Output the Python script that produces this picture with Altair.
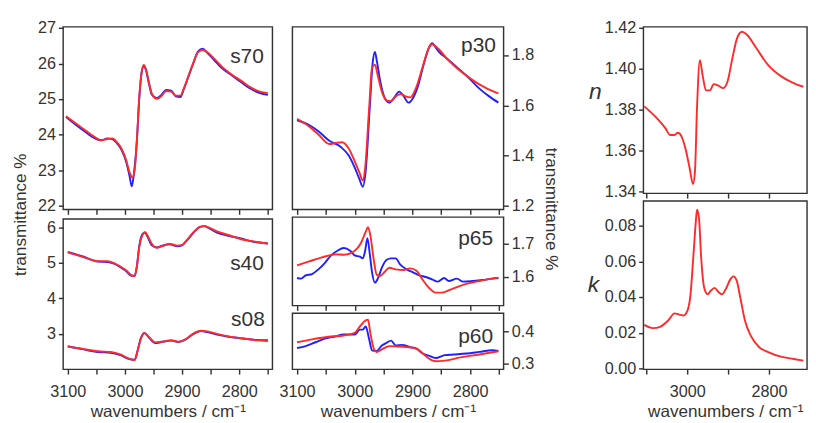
import altair as alt
import pandas as pd

FONT = "Liberation Sans"
INK = "#333333"
BLUE = "#2020ff"
RED = "#ff2a2a"

# ---------------- data (wavenumber, value) ----------------
s70_red_wn = [3103, 3075, 3047, 3042, 3031, 3022, 3014, 3006, 2998, 2992, 2987, 2983, 2979, 2975, 2971, 2967, 2963, 2958, 2953, 2944, 2936, 2928, 2919, 2911, 2903, 2897, 2889, 2881, 2872, 2864, 2856, 2844, 2831, 2814, 2797, 2781, 2764, 2750]
s70_red = [24.52, 24.19, 23.88, 23.84, 23.88, 23.90, 23.79, 23.61, 23.30, 22.95, 22.80, 23.00, 23.88, 25.03, 25.74, 25.96, 25.83, 25.47, 25.16, 25.01, 25.09, 25.23, 25.21, 25.10, 25.10, 25.30, 25.65, 26.00, 26.32, 26.38, 26.32, 26.14, 25.92, 25.70, 25.52, 25.34, 25.21, 25.17]
s70_blue_wn = [3103, 3075, 3047, 3040, 3031, 3022, 3014, 3006, 2998, 2992, 2988, 2984, 2979, 2975, 2971, 2967, 2963, 2958, 2953, 2944, 2936, 2928, 2919, 2911, 2903, 2897, 2889, 2881, 2872, 2864, 2856, 2844, 2831, 2814, 2797, 2781, 2764, 2750]
s70_blue = [24.50, 24.15, 23.86, 23.85, 23.90, 23.88, 23.76, 23.58, 23.25, 22.85, 22.55, 22.95, 23.85, 25.00, 25.72, 25.93, 25.80, 25.44, 25.13, 25.03, 25.12, 25.26, 25.24, 25.08, 25.06, 25.28, 25.63, 25.98, 26.34, 26.42, 26.30, 26.10, 25.88, 25.68, 25.48, 25.30, 25.17, 25.12]

s40_wn = [3100, 3075, 3047, 3031, 3019, 3008, 2997, 2989, 2983, 2979, 2975, 2969, 2965, 2961, 2953, 2944, 2936, 2922, 2908, 2900, 2892, 2881, 2869, 2861, 2853, 2839, 2819, 2797, 2775, 2750]
s40_red = [5.30, 5.18, 5.05, 5.05, 5.00, 4.90, 4.78, 4.66, 4.63, 4.91, 5.45, 5.80, 5.87, 5.79, 5.54, 5.43, 5.47, 5.54, 5.49, 5.51, 5.64, 5.85, 6.01, 6.04, 6.00, 5.89, 5.79, 5.67, 5.61, 5.55]
s40_blue = [5.31, 5.19, 5.04, 5.03, 4.98, 4.88, 4.76, 4.64, 4.64, 4.92, 5.47, 5.82, 5.86, 5.76, 5.50, 5.44, 5.48, 5.53, 5.47, 5.50, 5.63, 5.84, 6.02, 6.04, 5.98, 5.86, 5.77, 5.69, 5.60, 5.55]

s08_wn = [3100, 3075, 3047, 3025, 3008, 2994, 2983, 2978, 2972, 2966, 2958, 2947, 2936, 2919, 2906, 2894, 2881, 2867, 2856, 2839, 2819, 2794, 2769, 2750]
s08_red = [2.64, 2.58, 2.51, 2.49, 2.42, 2.31, 2.26, 2.51, 2.87, 3.02, 2.91, 2.76, 2.78, 2.82, 2.78, 2.85, 3.00, 3.09, 3.07, 3.00, 2.93, 2.87, 2.82, 2.80]
s08_blue = [2.65, 2.57, 2.49, 2.47, 2.40, 2.30, 2.27, 2.52, 2.89, 3.03, 2.90, 2.74, 2.77, 2.81, 2.77, 2.84, 2.99, 3.08, 3.05, 2.98, 2.92, 2.87, 2.83, 2.82]

p30_red_wn = [3100, 3079, 3063, 3044, 3033, 3022, 3011, 3000, 2992, 2986, 2982, 2975, 2970, 2965, 2960, 2953, 2945, 2937, 2929, 2920, 2912, 2904, 2893, 2882, 2871, 2866, 2858, 2838, 2817, 2795, 2773, 2751]
p30_red = [1.547, 1.516, 1.484, 1.446, 1.450, 1.453, 1.430, 1.377, 1.333, 1.301, 1.350, 1.590, 1.750, 1.762, 1.718, 1.655, 1.620, 1.617, 1.636, 1.645, 1.636, 1.632, 1.674, 1.756, 1.832, 1.844, 1.832, 1.781, 1.737, 1.700, 1.670, 1.648]
p30_blue_wn = [3100, 3079, 3063, 3044, 3024, 3011, 3000, 2992, 2986, 2981, 2974, 2969, 2965, 2962, 2956, 2948, 2940, 2932, 2923, 2915, 2907, 2899, 2890, 2880, 2871, 2866, 2858, 2852, 2844, 2828, 2806, 2784, 2767, 2751]
p30_blue = [1.541, 1.522, 1.497, 1.459, 1.434, 1.402, 1.352, 1.307, 1.276, 1.339, 1.590, 1.768, 1.813, 1.781, 1.699, 1.630, 1.611, 1.630, 1.655, 1.636, 1.611, 1.630, 1.680, 1.768, 1.832, 1.848, 1.825, 1.809, 1.794, 1.762, 1.718, 1.667, 1.636, 1.611]

p65_red_wn = [3100, 3079, 3057, 3033, 3019, 3000, 2989, 2981, 2977, 2973, 2967, 2962, 2956, 2948, 2940, 2929, 2915, 2904, 2893, 2882, 2871, 2860, 2849, 2833, 2811, 2784, 2751]
p65_red = [1.635, 1.647, 1.659, 1.668, 1.667, 1.679, 1.703, 1.736, 1.750, 1.726, 1.651, 1.607, 1.603, 1.616, 1.628, 1.623, 1.621, 1.626, 1.619, 1.591, 1.567, 1.553, 1.553, 1.563, 1.577, 1.588, 1.598]
p65_blue_wn = [3100, 3093, 3085, 3074, 3063, 3052, 3041, 3030, 3019, 3008, 3000, 2991, 2986, 2982, 2978, 2974, 2970, 2965, 2960, 2953, 2945, 2937, 2929, 2921, 2910, 2899, 2888, 2877, 2866, 2856, 2845, 2837, 2823, 2812, 2795, 2778, 2762, 2751]
p65_blue = [1.597, 1.595, 1.605, 1.609, 1.623, 1.642, 1.665, 1.679, 1.687, 1.679, 1.665, 1.661, 1.656, 1.679, 1.717, 1.670, 1.614, 1.583, 1.595, 1.628, 1.651, 1.656, 1.656, 1.637, 1.623, 1.614, 1.605, 1.600, 1.593, 1.586, 1.597, 1.588, 1.595, 1.586, 1.588, 1.591, 1.595, 1.597]

p60_red_wn = [3100, 3074, 3046, 3019, 3000, 2991, 2981, 2977, 2973, 2967, 2962, 2953, 2940, 2926, 2910, 2893, 2882, 2871, 2860, 2844, 2817, 2784, 2751]
p60_red = [0.366, 0.375, 0.383, 0.387, 0.395, 0.415, 0.434, 0.436, 0.395, 0.346, 0.336, 0.344, 0.354, 0.353, 0.351, 0.346, 0.331, 0.315, 0.307, 0.309, 0.319, 0.328, 0.338]
p60_blue_wn = [3100, 3085, 3068, 3052, 3036, 3019, 3000, 2991, 2986, 2981, 2975, 2970, 2962, 2953, 2945, 2937, 2929, 2918, 2904, 2893, 2882, 2871, 2860, 2844, 2828, 2806, 2784, 2762, 2751]
p60_blue = [0.348, 0.354, 0.366, 0.377, 0.383, 0.390, 0.390, 0.405, 0.405, 0.415, 0.375, 0.341, 0.339, 0.356, 0.364, 0.371, 0.356, 0.358, 0.351, 0.346, 0.331, 0.324, 0.317, 0.326, 0.328, 0.331, 0.336, 0.341, 0.339]

n_wn = [3105, 3076, 3053, 3042, 3031, 3023, 3014, 3004, 2994, 2986, 2981, 2976, 2969, 2962, 2954, 2945, 2935, 2924, 2912, 2901, 2889, 2878, 2866, 2855, 2832, 2802, 2771, 2740, 2716]
n_vals = [1.3816, 1.3762, 1.3708, 1.3676, 1.3676, 1.3687, 1.3669, 1.3607, 1.3513, 1.3436, 1.3498, 1.3809, 1.4042, 1.3964, 1.3894, 1.3894, 1.3925, 1.3917, 1.3905, 1.3940, 1.4057, 1.4150, 1.4181, 1.4169, 1.4104, 1.4018, 1.3964, 1.3930, 1.3912]

k_wn = [3105, 3084, 3065, 3046, 3031, 3019, 3009, 3000, 2992, 2985, 2979, 2976, 2971, 2966, 2958, 2950, 2943, 2933, 2924, 2915, 2905, 2895, 2887, 2879, 2870, 2859, 2844, 2824, 2802, 2771, 2740, 2716]
k_vals = [0.0244, 0.0226, 0.0235, 0.0270, 0.0309, 0.0302, 0.0297, 0.0320, 0.0412, 0.0626, 0.0821, 0.0890, 0.0839, 0.0626, 0.0448, 0.0416, 0.0434, 0.0452, 0.0430, 0.0416, 0.0448, 0.0498, 0.0516, 0.0492, 0.0395, 0.0270, 0.0181, 0.0119, 0.0092, 0.0066, 0.0053, 0.0044]

# axis tick values
lm_xticks = [3100, 3050, 3000, 2950, 2900, 2850, 2800, 2750]
r_xticks = [3100, 3000, 2900, 2800]
s70_yticks = [22, 23, 24, 25, 26, 27]
slow_yticks = [3, 4, 5, 6]
p30_yticks = [1.2, 1.4, 1.6, 1.8]
p65_yticks = [1.6, 1.7]
p60_yticks = [0.3, 0.4]
n_yticks = [1.34, 1.36, 1.38, 1.40, 1.42]
k_yticks = [0.00, 0.02, 0.04, 0.06, 0.08]

XTITLE = "wavenumbers / cm\u207b\u00b9"
YTITLE = "transmittance %"


def frame(wn, vals):
    return pd.DataFrame({"wn": wn, "v": vals})


def panel(series, w, h, xdom, ydom, xticks, yticks, yfmt, show_xlabels,
          label_expr, yorient="left", ytitle_kwargs=None, labels=()):
    xaxis_kw = dict(values=xticks, format="d", labels=show_xlabels, labelFlush=False,
                    labelPadding=11, titlePadding=4)
    if show_xlabels:
        xaxis_kw["labelExpr"] = label_expr
        xaxis_kw["title"] = XTITLE
    else:
        xaxis_kw["title"] = None
    yaxis_kw = dict(values=yticks, format=yfmt, orient=yorient, labelFlush=False)
    if ytitle_kwargs:
        yaxis_kw.update(ytitle_kwargs)
    else:
        yaxis_kw["title"] = None
    x = alt.X("wn:Q", scale=alt.Scale(domain=xdom, reverse=True, nice=False, zero=False),
              axis=alt.Axis(**xaxis_kw))
    y = alt.Y("v:Q", scale=alt.Scale(domain=ydom, nice=False, zero=False),
              axis=alt.Axis(**yaxis_kw))
    layers = []
    for df, color in series:
        layers.append(alt.Chart(df).mark_line(color=color, strokeWidth=2, interpolate="monotone", clip=True)
                      .encode(x=x, y=y, order="wn:Q"))
    for txt, px, py in labels:
        layers.append(alt.Chart(pd.DataFrame({"t": [txt]})).mark_text(
            text=txt, font=FONT, fontSize=22, color=INK, align="right", baseline="middle")
            .encode(x=alt.value(px), y=alt.value(py)))
    return alt.layer(*layers).properties(width=w, height=h)


LM_DOM = [2742, 3108]
R_DOM = [2707, 3107]
lm_expr = "datum.value % 100 == 0 ? datum.label : ''"
r_expr = "datum.value % 200 == 0 ? datum.label : ''"

s70 = panel([(frame(s70_blue_wn, s70_blue), BLUE), (frame(s70_red_wn, s70_red), RED)],
            220, 192, LM_DOM, [21.9, 27.03], lm_xticks, s70_yticks, "d", False, lm_expr,
            ytitle_kwargs=dict(title=YTITLE, titleX=-36, titleY=197, titleAngle=-90,
                               titleAlign="center", titleBaseline="bottom"),
            labels=[("s70", 211, 31)])
slow = panel([(frame(s40_wn, s40_blue), BLUE), (frame(s40_wn, s40_red), RED),
              (frame(s08_wn, s08_blue), BLUE), (frame(s08_wn, s08_red), RED)],
             220, 158, LM_DOM, [2.0, 6.24], lm_xticks, slow_yticks, "d", True, lm_expr,
             labels=[("s40", 211, 47), ("s08", 212, 105)])

p30 = panel([(frame(p30_blue_wn, p30_blue), BLUE), (frame(p30_red_wn, p30_red), RED)],
            222, 192, LM_DOM, [1.185, 1.913], lm_xticks, p30_yticks, ".1f", False, lm_expr,
            yorient="right",
            ytitle_kwargs=dict(title=YTITLE, titleX=40, titleY=191, titleAngle=90,
                               titleAlign="center", titleBaseline="bottom"),
            labels=[("p30", 214, 19)])
p65 = panel([(frame(p65_blue_wn, p65_blue), BLUE), (frame(p65_red_wn, p65_red), RED)],
            222, 93, LM_DOM, [1.514, 1.78], lm_xticks, p65_yticks, ".1f", False, lm_expr,
            yorient="right", labels=[("p65", 211, 22)])
p60 = panel([(frame(p60_blue_wn, p60_blue), BLUE), (frame(p60_red_wn, p60_red), RED)],
            222, 59, LM_DOM, [0.282, 0.456], lm_xticks, p60_yticks, ".1f", True, lm_expr,
            yorient="right", labels=[("p60", 211, 24)])

npanel = panel([(frame(n_wn, n_vals), RED)],
               172, 175, R_DOM, [1.339, 1.4205], r_xticks, n_yticks, ".2f", False, r_expr,
               ytitle_kwargs=dict(title="n", titleX=-51, titleY=68, titleAngle=0,
                                  titleAlign="center", titleBaseline="middle",
                                  titleFontStyle="italic", titleFontSize=24))
kpanel = panel([(frame(k_wn, k_vals), RED)],
               172, 177, R_DOM, [-0.0005, 0.0939], r_xticks, k_yticks, ".2f", True, r_expr,
               ytitle_kwargs=dict(title="k", titleX=-53, titleY=88, titleAngle=0,
                                  titleAlign="center", titleBaseline="middle",
                                  titleFontStyle="italic", titleFontSize=24))

left = alt.vconcat(s70, slow, spacing=10, bounds="flush")
mid = alt.vconcat(p30, p65, p60, spacing=8, bounds="flush")
right = alt.vconcat(npanel, kpanel, spacing=8, bounds="flush")
lm = alt.hconcat(left, mid, spacing=5)
chart = alt.hconcat(lm, right, spacing=28).properties(
    padding={"left": 3, "top": 0, "right": 0, "bottom": 0}
).configure_view(
    stroke=INK, strokeWidth=1.5
).configure_axis(
    grid=False, domain=False,
    labelFont=FONT, labelFontSize=17, labelColor=INK, labelPadding=3,
    titleFont=FONT, titleFontSize=18, titleColor=INK, titleFontWeight="normal",
    titlePadding=4,
    tickColor=INK, tickWidth=1.5, tickSize=5,
)

chart.save("out.html", embed_options={"renderer": "svg", "actions": False})
